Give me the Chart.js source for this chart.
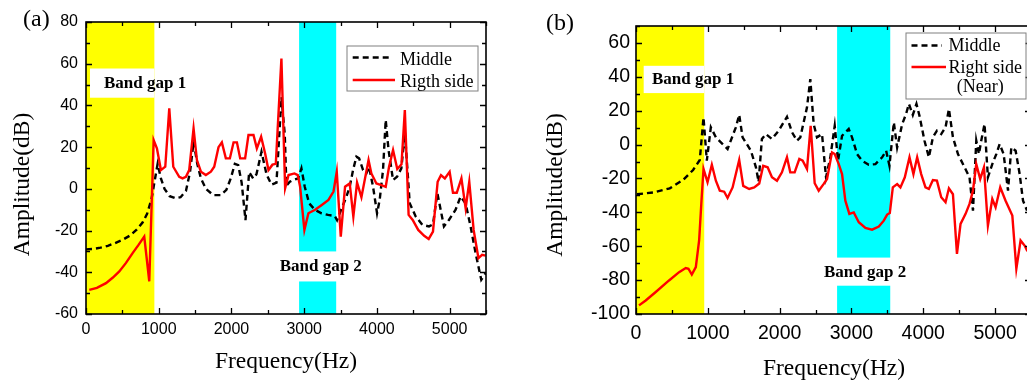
<!DOCTYPE html>
<html><head><meta charset="utf-8">
<script src="https://cdn.jsdelivr.net/npm/chart.js@4/dist/chart.umd.min.js"></script>
<style>
html,body{margin:0;padding:0;overflow:hidden;background:#fff;width:1027px;height:384px;position:relative;}
#ca{position:absolute;left:0;top:0;}
#cb{position:absolute;left:520px;top:0;}
</style></head><body>
<canvas id="ca" width="520" height="384"></canvas>
<canvas id="cb" width="520" height="384"></canvas>
<script>
// ---------- Panel (a) ----------
const aMidFreq = [0,100,200,300,400,500,600,700,780,840,900,950,985,1030,1080,1150,1230,1300,1374,1430,1480,1530,1580,1650,1750,1850,1930,1990,2047,2093,2140,2193,2243,2299,2344,2413,2482,2550,2619,2688,2733,2756,2802,2848,2917,2962,3008,3068,3146,3237,3329,3420,3452,3489,3581,3626,3672,3718,3755,3810,3855,3892,3947,4002,4038,4084,4121,4160,4222,4277,4336,4385,4451,4533,4625,4716,4771,4831,4922,4990,5082,5151,5220,5288,5357,5435,5495];
const aMidAmp  = [-29,-28.8,-28.2,-27.3,-26,-24.5,-22.5,-19.5,-16,-12,-5,5,12,5,0,-3.5,-4.5,-4,-1,8,22.6,12,5,0,-3,-3,-0.5,5,12,11.4,3,-15,8,5,7,17.8,7,2,3,44,26,1.5,3.4,4.2,5,9.8,1,-6.9,-10,-11.7,-12.5,-13,-15,-11.7,-3.7,1,9,15.4,14.6,9,7.4,10.6,1,-11.7,-5.3,9,33,18.6,4.2,5.8,9.8,27,-6.9,-13.2,-17.3,-18,-17,-2,-18,-14.9,-10,-3.7,-7,-18,-30.8,-43.6,-40.4];
const aRightFreq = [45,150,275,370,458,550,641,720,801,870,930,975,1030,1090,1145,1200,1282,1328,1374,1419,1479,1525,1580,1648,1717,1763,1822,1868,1923,1978,2029,2075,2120,2188,2234,2303,2349,2408,2463,2509,2564,2610,2687,2738,2785,2866,2912,2944,3003,3058,3150,3242,3334,3403,3448,3503,3562,3626,3676,3727,3787,3885,3924,3993,4061,4121,4167,4222,4280,4338,4384,4436,4492,4568,4650,4712,4771,4835,4881,4934,5000,5046,5098,5162,5220,5270,5330,5396,5446,5495];
const aRightAmp  = [-48.4,-47.5,-45.2,-42.5,-39.6,-35.5,-30.8,-27,-22.9,-44.4,23.4,19.4,9,10.6,38.6,10.6,5.8,5,5.8,9,29,13.8,8.2,6.6,8.2,10.6,20,22.3,14.6,14.6,22.3,22.3,14.6,14.6,25.8,25.8,19.4,25,17,9,11.6,12,62.5,0.3,6.6,7.4,6.6,1,-19.7,-11.7,-10,-7.7,-5.3,-1.3,8.2,-22.9,1,2.6,-13.3,3,-4,13.8,7.4,2.6,1.8,1,10.6,18.6,9.5,11.8,37.8,-12.5,-14.9,-19.7,-22.5,-24,-20.5,3.4,6.6,5,8.2,-1.9,-1.9,5,-9.3,3.4,-19.7,-33.2,-31.6,-32];
const aXTicks = [0,1000,2000,3000,4000,5000];
const aYTicks = [-60,-40,-20,0,20,40,60,80];
const aBandGap1 = [0,940];
const aBandGap2 = [2930,3440];

// ---------- Panel (b) ----------
const bMidFreq = [14,237,470,655,795,888,940,986,1042,1112,1275,1390,1437,1484,1600,1670,1707,1753,1809,1893,1986,2102,2172,2241,2288,2381,2427,2474,2520,2590,2646,2706,2767,2813,2869,2962,3008,3078,3148,3241,3334,3427,3483,3529,3590,3636,3706,3760,3800,3854,3905,3947,4017,4078,4134,4190,4250,4310,4357,4413,4483,4575,4644,4692,4738,4775,4807,4853,4900,4961,5017,5063,5119,5180,5226,5286,5342,5389,5445];
const bMidAmp  = [-29.3,-28.3,-25.8,-20.9,-15,-9.1,16,-9.5,10.2,4.3,-2.6,10.2,17.6,4.3,-3.6,-13.4,-22,3.3,6.2,3.3,8.2,16.4,7.3,2.3,4.3,22,38.6,12.1,4.3,6.2,-19.3,-7.5,11.1,-9.5,5.2,9.2,4.3,-5.6,-9.5,-11.9,-11.5,-7.5,-3.6,-12.5,13.1,-1.7,12.1,18,24,17.5,24,17,2.3,-7.5,4.3,8.2,6.2,10.2,21,4.3,-5.6,-13.4,-19.3,-39,2.3,-5.6,2.3,12.1,-19.3,-11.5,-5.6,0.3,-5.6,-27.2,-1.7,-3.6,-17.4,-33.1,-39];
const bRightFreq = [42,135,275,460,600,693,730,777,833,879,912,940,996,1056,1112,1167,1228,1275,1345,1437,1493,1576,1646,1716,1771,1833,1893,1963,2032,2102,2148,2209,2274,2321,2381,2432,2488,2544,2614,2660,2729,2767,2823,2869,2915,2971,3032,3102,3194,3287,3381,3450,3497,3534,3576,3636,3682,3743,3808,3863,3915,3971,4031,4078,4134,4190,4250,4310,4357,4413,4469,4519,4589,4644,4692,4738,4793,4845,4900,4961,5007,5072,5146,5240,5296,5355,5411,5450];
const bRightAmp  = [-94.9,-92,-87,-80.2,-75.3,-72.9,-73.3,-76.7,-72.3,-56.6,-33.1,-14.4,-22.2,-11.9,-21.3,-27.2,-27.8,-31.5,-25.3,-9.1,-24.4,-26.2,-25.3,-23,-12.5,-13.4,-19.3,-21.3,-16.4,-7.5,-16.4,-16.4,-8.5,-9.5,-14.4,11.1,-22.8,-27.2,-23.2,-20.3,-4.6,-5.6,-11.5,-17.4,-33.1,-40.9,-40,-45.8,-49.2,-50.2,-48.4,-44.9,-41.3,-40.4,-25.2,-23.3,-25.3,-19.3,-7.5,-17.4,-7.5,-17.4,-25.2,-26.2,-20.9,-21.3,-31.1,-34,-25.8,-29.3,-64.5,-46.8,-40.9,-35,-27.2,-11.5,-20.3,-13.4,-47.8,-32.1,-37,-25.2,-33.1,-41.9,-73.3,-56.6,-59.6,-63];
const bXTicks = [0,1000,2000,3000,4000,5000];
const bYTicks = [-100,-80,-60,-40,-20,0,20,40,60];
const bBandGap1 = [0,950];
const bBandGap2 = [2800,3540];

const SERIF = "'Liberation Serif','Times New Roman',serif";
const SANS = "'Liberation Sans',Arial,sans-serif";

const decor = {
  id: 'decor',
  beforeDatasetsDraw(chart, args, o) {
    const {ctx, chartArea: ca, scales: {x, y}} = chart;
    ctx.save();
    ctx.beginPath(); ctx.rect(ca.left, ca.top, ca.right - ca.left, ca.bottom - ca.top); ctx.clip();
    for (const r of o.rects) {
      const x0 = x.getPixelForValue(r.x0), x1 = x.getPixelForValue(r.x1);
      const y0 = y.getPixelForValue(r.y0), y1 = y.getPixelForValue(r.y1);
      ctx.fillStyle = r.color;
      ctx.fillRect(Math.min(x0, x1), Math.min(y0, y1), Math.abs(x1 - x0), Math.abs(y1 - y0));
    }
    ctx.restore();
    ctx.save();
    ctx.fillStyle = '#000';
    ctx.textBaseline = 'middle';
    for (const t of o.notes) {
      ctx.font = t.font; ctx.textAlign = t.align;
      ctx.fillText(t.text, x.getPixelForValue(t.x), y.getPixelForValue(t.y));
    }
    ctx.restore();
  },
  afterDatasetsDraw(chart, args, o) {
    const {ctx, chartArea: ca, scales: {x, y}} = chart;
    ctx.save();
    ctx.strokeStyle = '#000';
    ctx.lineWidth = 1.3;
    ctx.beginPath();
    const xt = (vals, len) => { for (const v of vals) { const p = Math.round(x.getPixelForValue(v)) + 0.5; ctx.moveTo(p, ca.bottom); ctx.lineTo(p, ca.bottom - len); ctx.moveTo(p, ca.top); ctx.lineTo(p, ca.top + len); } };
    const yt = (vals, len) => { for (const v of vals) { const p = Math.round(y.getPixelForValue(v)) + 0.5; ctx.moveTo(ca.left, p); ctx.lineTo(ca.left + len, p); ctx.moveTo(ca.right, p); ctx.lineTo(ca.right - len, p); } };
    xt(o.xMajor, 6); xt(o.xMinor, 4); yt(o.yMajor, 6); yt(o.yMinor, 4);
    ctx.stroke();
    ctx.lineWidth = 1.6;
    ctx.strokeRect(ca.left, ca.top, ca.right - ca.left, ca.bottom - ca.top);
    const L = o.legend;
    ctx.fillStyle = '#fff';
    ctx.fillRect(L.box[0], L.box[1], L.box[2] - L.box[0], L.box[3] - L.box[1]);
    ctx.strokeStyle = '#808080'; ctx.lineWidth = 1;
    ctx.strokeRect(L.box[0] + 0.5, L.box[1] + 0.5, L.box[2] - L.box[0], L.box[3] - L.box[1]);
    ctx.font = L.font; ctx.fillStyle = '#000'; ctx.textBaseline = 'alphabetic';
    for (const row of L.rows) {
      const ds = chart.data.datasets[row.ds];
      ctx.save();
      ctx.strokeStyle = ds.borderColor; ctx.lineWidth = ds.borderWidth;
      ctx.setLineDash(ds.borderDash || []);
      ctx.beginPath(); ctx.moveTo(row.x0, row.y); ctx.lineTo(row.x1, row.y); ctx.stroke();
      ctx.restore();
      const lines = ds.label.split('\n');
      lines.forEach((t, i) => { ctx.textAlign = 'left'; ctx.fillText(t, row.tx[i], row.ty[i]); });
    }
    ctx.fillStyle = '#000';
    for (const t of o.titles) {
      ctx.save();
      ctx.font = t.font; ctx.textAlign = t.align; ctx.textBaseline = 'middle';
      ctx.translate(t.x, t.y); ctx.rotate(t.rot || 0);
      ctx.fillText(t.text, 0, 0);
      ctx.restore();
    }
    ctx.restore();
  }
};

function pts(f, a) { return f.map((v, i) => ({x: v, y: a[i]})); }
function halfSteps(ticks) { const r = []; for (let i = 0; i < ticks.length - 1; i++) r.push((ticks[i] + ticks[i + 1]) / 2); return r; }

function makeChart(id, c) {
  return new Chart(document.getElementById(id), {
    type: 'line',
    data: {datasets: [
      {label: c.midLabel, data: pts(c.midF, c.midA), borderColor: '#000000', borderWidth: 2.4, borderDash: [6, 4], pointRadius: 0, tension: 0, order: 2},
      {label: c.rightLabel, data: pts(c.rightF, c.rightA), borderColor: '#ff0000', borderWidth: 2.4, pointRadius: 0, tension: 0, order: 1}
    ]},
    options: {
      responsive: false, animation: false, devicePixelRatio: 1,
      layout: {padding: c.padding},
      plugins: {legend: {display: false}, tooltip: {enabled: false}, decor: c.decor},
      scales: {
        x: {type: 'linear', min: 0, max: 5500,
            afterBuildTicks: s => { s.ticks = c.xTicks.map(v => ({value: v})); },
            afterFit: s => { s.height = c.xH; },
            grid: {display: false, drawTicks: false}, border: {display: false},
            ticks: {font: {family: SANS, size: c.tickSize}, color: '#000', padding: c.xPad, maxRotation: 0, autoSkip: false, callback: v => String(v)}},
        y: {type: 'linear', min: c.yMin, max: c.yMax,
            afterBuildTicks: s => { s.ticks = c.yTicks.map(v => ({value: v})); },
            afterFit: s => { s.width = c.yW; },
            grid: {display: false, drawTicks: false}, border: {display: false},
            ticks: {font: {family: SANS, size: c.tickSize}, color: '#000', padding: c.yPad, autoSkip: false, callback: v => String(v)}}
      }
    },
    plugins: [decor]
  });
}

makeChart('ca', {
  midLabel: 'Middle', rightLabel: 'Rigth side',
  midF: aMidFreq, midA: aMidAmp, rightF: aRightFreq, rightA: aRightAmp,
  xTicks: aXTicks, yTicks: aYTicks, yMin: -60, yMax: 80,
  padding: {left: 0, right: 34, top: 22, bottom: 0}, xH: 70, yW: 86,
  tickSize: 16, xPad: 6, yPad: 8,
  decor: {
    rects: [
      {x0: aBandGap1[0], x1: aBandGap1[1], y0: -60, y1: 80, color: '#ffff00'},
      {x0: aBandGap2[0], x1: aBandGap2[1], y0: -30, y1: 80, color: '#00ffff'},
      {x0: aBandGap2[0], x1: aBandGap2[1], y0: -60, y1: -44.4, color: '#00ffff'},
      {x0: 55, x1: aBandGap1[1], y0: 43.7, y1: 57.7, color: '#ffffff'}
    ],
    notes: [
      {text: 'Band gap 1', x: 247, y: 50.6, align: 'left', font: 'bold 17px ' + SERIF},
      {text: 'Band gap 2', x: 3228, y: -37.4, align: 'center', font: 'bold 17px ' + SERIF}
    ],
    xMajor: aXTicks, xMinor: halfSteps(aXTicks.concat([6000])), yMajor: aYTicks, yMinor: halfSteps(aYTicks),
    legend: {box: [346.5, 45.5, 477.5, 90.5], font: '18px ' + SERIF,
      rows: [{ds: 0, x0: 352.7, x1: 392, y: 57.5, tx: [400], ty: [64.5]},
             {ds: 1, x0: 352.7, x1: 395, y: 80, tx: [400], ty: [86.5]}]},
    titles: [
      {text: 'Amplitude(dB)', x: 23, y: 184.5, rot: -Math.PI / 2, align: 'center', font: '23.5px ' + SERIF},
      {text: 'Frequency(Hz)', x: 286, y: 361.5, align: 'center', font: '23.5px ' + SERIF},
      {text: '(a)', x: 23, y: 19.5, align: 'left', font: '24px ' + SERIF}
    ]
  }
});

makeChart('cb', {
  midLabel: 'Middle', rightLabel: 'Right side\n(Near)',
  midF: bMidFreq, midA: bMidAmp, rightF: bRightFreq, rightA: bRightAmp,
  xTicks: bXTicks, yTicks: bYTicks, yMin: -100, yMax: 70,
  padding: {left: 0, right: 9, top: 26, bottom: 0}, xH: 70, yW: 116,
  tickSize: 19.5, xPad: 8, yPad: 6,
  decor: {
    rects: [
      {x0: bBandGap1[0], x1: bBandGap1[1], y0: -100, y1: 70, color: '#ffff00'},
      {x0: bBandGap2[0], x1: bBandGap2[1], y0: -66.7, y1: 70, color: '#00ffff'},
      {x0: bBandGap2[0], x1: bBandGap2[1], y0: -100, y1: -83.3, color: '#00ffff'},
      {x0: 107, x1: bBandGap1[1], y0: 30.4, y1: 46.5, color: '#ffffff'}
    ],
    notes: [
      {text: 'Band gap 1', x: 223, y: 38.4, align: 'left', font: 'bold 17px ' + SERIF},
      {text: 'Band gap 2', x: 3190, y: -75.8, align: 'center', font: 'bold 17px ' + SERIF}
    ],
    xMajor: bXTicks, xMinor: halfSteps(bXTicks.concat([6000])), yMajor: bYTicks, yMinor: halfSteps(bYTicks.concat([80])),
    legend: {box: [385.5, 32.5, 505.5, 98.5], font: '18px ' + SERIF,
      rows: [{ds: 0, x0: 391.5, x1: 422, y: 45.5, tx: [428.5], ty: [50.7]},
             {ds: 1, x0: 391.5, x1: 426, y: 67, tx: [428.5, 436.7], ty: [73, 92]}]},
    titles: [
      {text: 'Amplitude(dB)', x: 36, y: 185, rot: -Math.PI / 2, align: 'center', font: '23.5px ' + SERIF},
      {text: 'Frequency(Hz)', x: 314, y: 369, align: 'center', font: '23.5px ' + SERIF},
      {text: '(b)', x: 26, y: 23.5, align: 'left', font: '24px ' + SERIF}
    ]
  }
});
</script>
</body></html>
